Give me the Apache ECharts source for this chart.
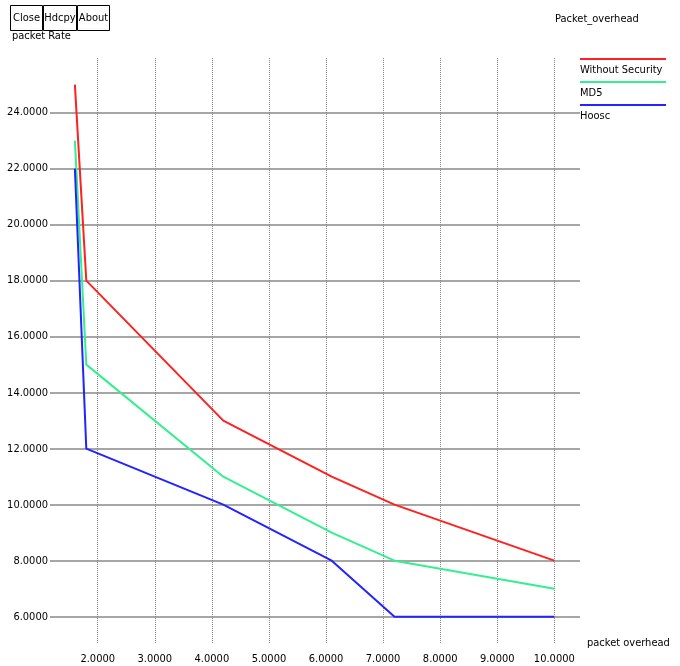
<!DOCTYPE html>
<html>
<head>
<meta charset="utf-8">
<script src="https://cdn.jsdelivr.net/npm/echarts@6/dist/echarts.min.js"></script>
<style>
  html, body { margin: 0; padding: 0; background: #fff; }
  #chart { width: 680px; height: 666px; }
</style>
</head>
<body>
<div id="chart"></div>
<script>
// packet overhead (x) shared by all curves
const overhead = [1.6, 1.8, 4.2, 6.1, 7.2, 10]
const withoutSecurity = [25, 18, 13, 11, 10, 8]
const md5 = [23, 15, 11, 9, 8, 7]
const hoosc = [22, 12, 10, 8, 6, 6]

const seriesNames = ['Without Security', 'MD5', 'Hoosc']
const xTicks = [2, 3, 4, 5, 6, 7, 8, 9, 10]
const yTicks = [6, 8, 10, 12, 14, 16, 18, 20, 22, 24]

const colors = ['#ff2020', '#33f08f', '#2323ff']
const font = '"DejaVu Sans Condensed", "Liberation Sans Narrow", sans-serif'
const fs = 11

function pairs(ys) {
  return overhead.map((x, i) => [x, ys[i]])
}

const chart = echarts.init(document.getElementById('chart'))

// grid lines drawn at the tick values, below the curves
const gridLines = []
yTicks.forEach(v => gridLines.push({ yAxis: v, lineStyle: { color: '#a6a6a6', width: 2, type: 'solid' } }))
xTicks.forEach(v => gridLines.push({ xAxis: v, lineStyle: { color: '#858585', width: 1, type: [1, 1] } }))

chart.setOption({
  animation: false,
  backgroundColor: '#fff',
  textStyle: { fontFamily: font },
  title: [
    { text: 'Packet_overhead', left: 555, top: 14, padding: 0,
      textStyle: { fontFamily: font, fontSize: fs, fontWeight: 'normal', color: '#000' } },
    { text: 'packet Rate', left: 12, top: 31, padding: 0,
      textStyle: { fontFamily: font, fontSize: fs, fontWeight: 'normal', color: '#000' } }
  ],
  graphic: ['Close', 'Hdcpy', 'About'].map((t, i) => {
    const lefts = [10, 43, 77]
    const widths = [32, 33, 32]
    return {
      type: 'group',
      left: lefts[i],
      top: 5,
      children: [
        { type: 'rect', shape: { x: 0, y: 0, width: widths[i], height: 25 },
          style: { fill: '#fff', stroke: '#000', lineWidth: 1 } },
        { type: 'text', x: widths[i] / 2, y: 13,
          style: { text: t, fill: '#000', font: fs + 'px ' + font, align: 'center', verticalAlign: 'middle' } }
      ]
    }
  }),
  legend: {
    orient: 'vertical',
    left: 569,
    top: 48,
    itemWidth: 0,
    itemHeight: 0,
    itemGap: 0,
    selectedMode: false,
    data: seriesNames,
    formatter: function(name) {
      return '{b' + seriesNames.indexOf(name) + '|}\n{t|' + name + '}'
    },
    textStyle: {
      rich: {
        b0: { width: 86, height: 2, backgroundColor: colors[0] },
        b1: { width: 86, height: 2, backgroundColor: colors[1] },
        b2: { width: 86, height: 2, backgroundColor: colors[2] },
        t: { fontFamily: font, fontSize: fs, color: '#000', lineHeight: 21 }
      }
    }
  },
  grid: {
    left: 50,
    right: 100,
    top: 58,
    bottom: 23,
    containLabel: false
  },
  xAxis: {
    type: 'value',
    min: 1.164,
    max: 10.45,
    name: 'packet overhead',
    nameLocation: 'end',
    nameGap: 7,
    nameTextStyle: { fontFamily: font, fontSize: fs, color: '#000' },
    axisLine: { show: false },
    axisTick: { show: false },
    splitLine: { show: false },
    axisLabel: {
      customValues: xTicks,
      margin: 11,
      color: '#000',
      fontSize: fs,
      fontFamily: font,
      formatter: v => v.toFixed(4)
    }
  },
  yAxis: {
    type: 'value',
    min: 5.06,
    max: 25.95,
    axisLine: { show: false },
    axisTick: { show: false },
    splitLine: { show: false },
    axisLabel: {
      customValues: yTicks,
      margin: 2,
      color: '#000',
      fontSize: fs,
      fontFamily: font,
      formatter: v => v.toFixed(4)
    }
  },
  series: [
    {
      name: 'grid',
      type: 'line',
      data: [],
      z: 1,
      silent: true,
      markLine: {
        z: 1,
        silent: true,
        symbol: 'none',
        label: { show: false },
        emphasis: { disabled: true },
        data: gridLines
      }
    },
    { name: seriesNames[0], type: 'line', z: 3, data: pairs(withoutSecurity), showSymbol: false, symbol: 'none',
      lineStyle: { color: colors[0], width: 2 }, itemStyle: { color: colors[0] } },
    { name: seriesNames[1], type: 'line', z: 3, data: pairs(md5), showSymbol: false, symbol: 'none',
      lineStyle: { color: colors[1], width: 2 }, itemStyle: { color: colors[1] } },
    { name: seriesNames[2], type: 'line', z: 3, data: pairs(hoosc), showSymbol: false, symbol: 'none',
      lineStyle: { color: colors[2], width: 2 }, itemStyle: { color: colors[2] } }
  ]
})
</script>
</body>
</html>
